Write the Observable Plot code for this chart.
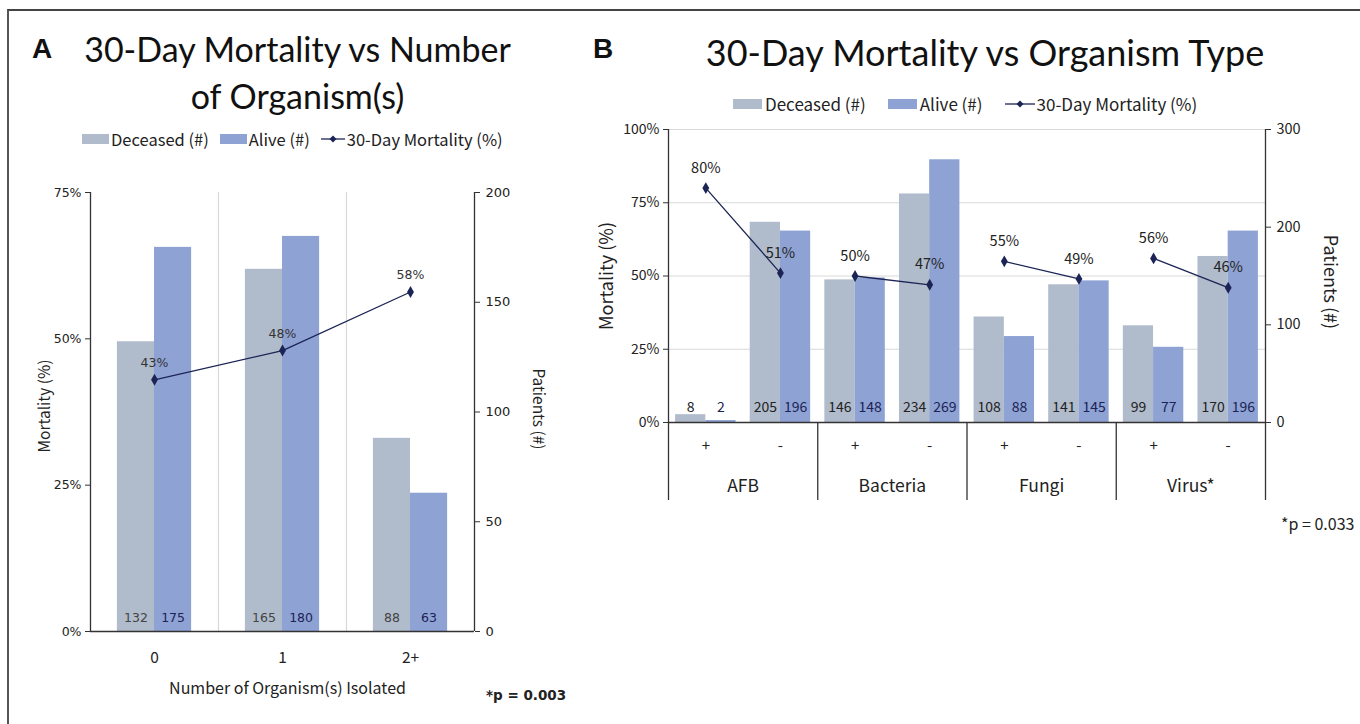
<!DOCTYPE html>
<html><head><meta charset="utf-8">
<script src="https://cdn.jsdelivr.net/npm/d3@7"></script>
<script src="https://cdn.jsdelivr.net/npm/@observablehq/plot@0.6"></script>
<style>
body{margin:0;background:#fff;}
#root{position:relative;width:1360px;height:724px;overflow:hidden;font-family:"Noto Sans CJK KR",sans-serif;color:#222;}
.abs{position:absolute;white-space:nowrap;}
.frame{position:absolute;left:7px;top:9px;width:1400px;height:800px;border-top:2px solid #444;border-left:2px solid #555;}
.title{font-family:Lato,sans-serif;color:#111;text-align:center;}
.letter{font-family:"Liberation Sans",Arial,sans-serif;font-weight:bold;font-size:28px;color:#111;}
.leg{display:flex;align-items:center;}
.sw{display:inline-block;height:10px;}
.pv{font-weight:bold;font-family:"DejaVu Sans",sans-serif;}
.plot{position:absolute;}
</style></head><body>
<div id="root">
  <div class="frame"></div>
  <div class="abs letter" style="left:32px;top:33px;">A</div>
  <div class="abs title" style="left:70px;top:25px;width:455px;font-size:34px;line-height:47px;">30-Day Mortality vs Number<br>of Organism(s)</div>
  <div class="abs letter" style="left:593px;top:33px;">B</div>
  <div class="abs title" style="left:680px;top:28px;width:610px;font-size:36px;line-height:48px;">30-Day Mortality vs Organism Type</div>
  <div id="legA" class="abs leg" style="left:82px;top:127px;font-size:16.5px;"></div>
  <div id="legB" class="abs leg" style="left:733px;top:91px;font-size:17px;"></div>
  <div id="plotA" class="plot" style="left:0px;top:170px;"></div>
  <div id="plotB" class="plot" style="left:560px;top:110px;"></div>
  <div class="abs pv" style="left:486px;top:687px;font-size:13.5px;">*p = 0.003</div>
  <div class="abs" style="left:1281px;top:511px;font-size:16px;">*p = 0.033</div>
</div>
<script>
// ---- Panel A data ----
const catsA = ["0", "1", "2+"];
const deceasedA = [132, 165, 88];
const aliveA = [175, 180, 63];
const mortA = [43, 48, 58];
const leftTicksA = [0, 25, 50, 75];
const rightTicksA = [0, 50, 100, 150, 200];

// ---- Panel B data ----
const organisms = ["AFB", "Bacteria", "Fungi", "Virus*"];
const signs = ["+", "-"];
const deceasedB = [8, 205, 146, 234, 108, 141, 99, 170];
const aliveB = [2, 196, 148, 269, 88, 145, 77, 196];
const mortB = [80, 51, 50, 47, 55, 49, 56, 46];
const leftTicksB = [0, 25, 50, 75, 100];
const rightTicksB = [0, 100, 200, 300];

const seriesNames = ["Deceased (#)", "Alive (#)", "30-Day Mortality (%)"];

const gray = "#b0bbcb", blue = "#8fa2d4", navy = "#1c2455", grid = "#d9d9d9", axisCol = "#333";
const dejavu = "'DejaVu Sans',sans-serif";
const kor = "'Noto Sans CJK KR',sans-serif";

// legends
function legend(el, swW, gapText, gapItem, lineW) {
  const html = [
    `<span class="sw" style="width:${swW}px;background:${gray};margin-right:${gapText}px"></span><span style="margin-right:${gapItem}px">${seriesNames[0]}</span>`,
    `<span class="sw" style="width:${swW}px;background:${blue};margin-right:${gapText}px"></span><span style="margin-right:${gapItem}px">${seriesNames[1]}</span>`,
    `<svg width="${lineW}" height="10" style="margin-right:2px"><line x1="0" y1="5" x2="${lineW}" y2="5" stroke="${navy}" stroke-width="1.3"/><path d="M${lineW/2} 1.5 L${lineW/2+3.5} 5 L${lineW/2} 8.5 L${lineW/2-3.5} 5Z" fill="${navy}"/></svg><span>${seriesNames[2]}</span>`
  ].join("");
  document.getElementById(el).innerHTML = html;
}
legend("legA", 27, 2, 11, 24);
legend("legB", 29, 3, 22, 30);

// ---- Plot A ----
const kA = 200 / 75;
const idxA = catsA.map((_, i) => i);
const wA = 0.29;
const plotA = Plot.plot({
  width: 560, height: 530,
  marginLeft: 90, marginRight: 86, marginTop: 22, marginBottom: 69,
  x: {domain: [-0.5, catsA.length - 0.5]},
  y: {domain: [0, 200]},
  style: {fontFamily: kor, background: "transparent", overflow: "visible", color: "#222"},
  marks: [
    Plot.ruleX(idxA.slice(1).map(i => i - 0.5), {stroke: grid, strokeWidth: 1.2}),
    Plot.rect(idxA, {x1: i => i - wA, x2: i => i, y1: 0, y2: i => deceasedA[i], fill: gray}),
    Plot.rect(idxA, {x1: i => i, x2: i => i + wA, y1: 0, y2: i => aliveA[i], fill: blue}),
    Plot.text(idxA, {x: i => i - wA / 2, y: 0, text: i => String(deceasedA[i]), dy: -14, fill: "#444", fontSize: 12.5, fontFamily: dejavu}),
    Plot.text(idxA, {x: i => i + wA / 2, y: 0, text: i => String(aliveA[i]), dy: -14, fill: "#1c2455", fontSize: 12.5, fontFamily: dejavu}),
    Plot.line(idxA, {x: i => i, y: i => mortA[i] * kA, stroke: navy, strokeWidth: 1.3}),
    Plot.dot(idxA, {x: i => i, y: i => mortA[i] * kA, symbol: "diamond", r: 3.6, fill: navy, stroke: "none"}),
    Plot.text(idxA, {x: i => i, y: i => mortA[i] * kA, text: i => mortA[i] + "%", dy: -17, fontSize: 12.5, fontFamily: dejavu, fill: "#333"}),
    Plot.ruleX([-0.5, catsA.length - 0.5], {stroke: axisCol, strokeWidth: 1.3}),
    Plot.ruleY([0], {stroke: axisCol, strokeWidth: 1.3}),
    Plot.axisY({anchor: "left", ticks: leftTicksA.map(p => p * kA), tickFormat: d => Math.round(d / kA) + "%", tickSize: 5, tickPadding: 4, label: null, fontSize: 12.5, fontFamily: dejavu, stroke: axisCol}),
    Plot.axisY({anchor: "right", ticks: rightTicksA, tickSize: 5, tickPadding: 6, label: null, fontSize: 13, fontFamily: dejavu, stroke: axisCol}),
    Plot.axisX({ticks: idxA, tickFormat: i => catsA[i], tickSize: 0, tickPadding: 20, label: null, fontSize: 15.5, fontFamily: kor}),
    Plot.text(["Mortality (%)"], {text: d => d, frameAnchor: "left", textAnchor: "middle", rotate: -90, dx: -45, dy: -6, fontSize: 15.5, fontFamily: kor}),
    Plot.text(["Patients (#)"], {text: d => d, frameAnchor: "right", textAnchor: "middle", rotate: 90, dx: 63, dy: -3, fontSize: 15.5, fontFamily: kor}),
    Plot.text(["Number of Organism(s) Isolated"], {text: d => d, frameAnchor: "bottom", dy: 62, dx: 5, fontSize: 16, fontFamily: kor})
  ]
});
document.getElementById("plotA").appendChild(plotA);

// ---- Plot B ----
const kB = 300 / 100;
const idxB = deceasedB.map((_, i) => i);
const orgOf = i => organisms[Math.floor(i / signs.length)];
const wB = 0.405;
const plotB = Plot.plot({
  width: 800, height: 410,
  marginLeft: 108, marginRight: 95, marginTop: 19, marginBottom: 98,
  x: {domain: [-0.5, idxB.length - 0.5]},
  y: {domain: [0, 300]},
  style: {fontFamily: kor, background: "transparent", overflow: "visible", color: "#222"},
  marks: [
    Plot.ruleY(leftTicksB.slice(1).map(p => p * kB), {stroke: grid, strokeWidth: 1.2}),
    Plot.rect(idxB, {x1: i => i - wB, x2: i => i, y1: 0, y2: i => deceasedB[i], fill: gray}),
    Plot.rect(idxB, {x1: i => i, x2: i => i + wB, y1: 0, y2: i => aliveB[i], fill: blue}),
    Plot.text(idxB, {x: i => i - wB / 2, y: 0, text: i => String(deceasedB[i]), dy: -15, fill: "#222", fontSize: 14, fontFamily: kor}),
    Plot.text(idxB, {x: i => i + wB / 2, y: 0, text: i => String(aliveB[i]), dy: -15, fill: "#1c2455", fontSize: 14, fontFamily: kor}),
    Plot.line(idxB, {x: i => i, y: i => mortB[i] * kB, z: orgOf, stroke: navy, strokeWidth: 1.3}),
    Plot.dot(idxB, {x: i => i, y: i => mortB[i] * kB, symbol: "diamond", r: 3.6, fill: navy, stroke: "none"}),
    Plot.text(idxB, {x: i => i, y: i => mortB[i] * kB, text: i => mortB[i] + "%", dy: -20, fontSize: 14.5, fontFamily: kor, fill: "#222"}),
    Plot.ruleX([-0.5, idxB.length - 0.5], {stroke: axisCol, strokeWidth: 1.3}),
    Plot.ruleY([0], {stroke: axisCol, strokeWidth: 1.3}),
    Plot.axisY({anchor: "left", ticks: leftTicksB.map(p => p * kB), tickFormat: d => Math.round(d / kB) + "%", tickSize: 5, tickPadding: 4, label: null, fontSize: 14, fontFamily: kor, stroke: axisCol}),
    Plot.axisY({anchor: "right", ticks: rightTicksB, tickSize: 5, tickPadding: 6, label: null, fontSize: 14.5, fontFamily: kor, stroke: axisCol}),
    Plot.axisX({ticks: organisms.map((_, g) => g * signs.length - 0.5).concat([idxB.length - 0.5]), tickFormat: () => "", tickSize: 78, label: null, stroke: axisCol, strokeWidth: 1.3}),
    Plot.axisX({ticks: idxB, tickFormat: i => signs[i % signs.length], tickSize: 0, tickPadding: 18, label: null, fontSize: 15, fontFamily: kor}),
    Plot.axisX({ticks: organisms.map((_, g) => g * signs.length + 0.5), tickFormat: d => organisms[Math.round((d - 0.5) / signs.length)], tickSize: 0, tickPadding: 57, label: null, fontSize: 17.5, fontFamily: kor}),
    Plot.text(["Mortality (%)"], {text: d => d, frameAnchor: "left", textAnchor: "middle", rotate: -90, dx: -61, fontSize: 18, fontFamily: kor}),
    Plot.text(["Patients (#)"], {text: d => d, frameAnchor: "right", textAnchor: "middle", rotate: 90, dx: 64, dy: 6, fontSize: 18, fontFamily: kor})
  ]
});
document.getElementById("plotB").appendChild(plotB);
</script>
</body></html>
